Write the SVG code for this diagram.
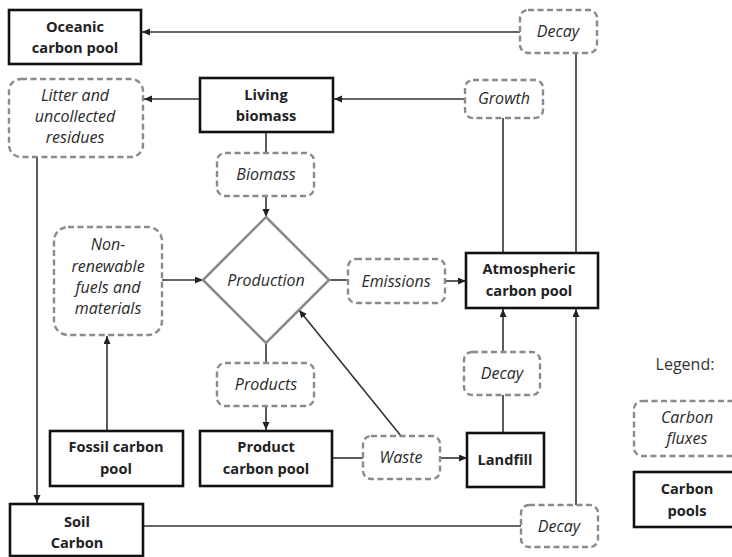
<svg xmlns="http://www.w3.org/2000/svg" width="732" height="557" viewBox="0 0 732 557">
<defs>
<marker id="arr" markerUnits="userSpaceOnUse" markerWidth="9" markerHeight="8" refX="8" refY="3.5" orient="auto">
<path d="M0,0 L8,3.5 L0,7 z" fill="#222"/>
</marker>
<style>
.pool{fill:#fff;stroke:#111;stroke-width:2.6}
.flux{fill:#fff;stroke:#8a8a8a;stroke-width:2.4;stroke-dasharray:6 3.5}
.b{font-family:"Open Sans","DejaVu Sans",sans-serif;font-weight:bold;font-size:14.6px;fill:#222;text-anchor:middle}
.i{font-family:"Open Sans","DejaVu Sans",sans-serif;font-style:italic;font-size:16px;fill:#2a2a2a;text-anchor:middle}
.l{font-family:"Open Sans","DejaVu Sans",sans-serif;font-size:16px;fill:#333;text-anchor:middle}
.c{fill:none;stroke:#333;stroke-width:1.6}
.ca{fill:none;stroke:#333;stroke-width:1.6;marker-end:url(#arr)}
</style>
</defs>
<rect width="732" height="557" fill="#fff"/>
<g id="connectors">
<path class="ca" d="M520,32 H142"/>
<path class="c" d="M576,53 V253"/>
<path class="ca" d="M465,99 H334"/>
<path class="c" d="M503,118 V253"/>
<path class="ca" d="M200,99 H144"/>
<path class="ca" d="M37,157 V503"/>
<path class="c" d="M266,132 V153"/>
<path class="ca" d="M266,196 V217"/>
<path class="ca" d="M162,280 H203"/>
<path class="ca" d="M107,431 V336"/>
<path class="c" d="M329,280 H348"/>
<path class="ca" d="M445,281 H466"/>
<path class="c" d="M266,343 V363"/>
<path class="ca" d="M266,406 V430"/>
<path class="c" d="M332,458 H363"/>
<path class="ca" d="M440,458 H467"/>
<path class="ca" d="M401,436 L299,310"/>
<path class="c" d="M503,433 V395"/>
<path class="ca" d="M503,352 V309"/>
<path class="c" d="M143,526 H521"/>
<path class="ca" d="M576,505 V309"/>
</g>
<g id="oceanic">
<rect class="pool" x="9" y="10" width="132" height="54"/>
<text class="b" x="75" y="32">Oceanic</text>
<text class="b" x="75" y="53">carbon pool</text>
</g>
<g id="decay-top">
<rect class="flux" x="520" y="10" width="77" height="43" rx="8"/>
<text class="i" x="558" y="37">Decay</text>
</g>
<g id="litter">
<rect class="flux" x="9" y="79" width="134" height="78" rx="12"/>
<text class="i" x="75" y="101">Litter and</text>
<text class="i" x="75" y="122">uncollected</text>
<text class="i" x="75" y="143">residues</text>
</g>
<g id="living">
<rect class="pool" x="200" y="78" width="133" height="54"/>
<text class="b" x="266" y="100">Living</text>
<text class="b" x="266" y="121">biomass</text>
</g>
<g id="growth">
<rect class="flux" x="465" y="80" width="78" height="38" rx="8"/>
<text class="i" x="504" y="104">Growth</text>
</g>
<g id="biomass">
<rect class="flux" x="217" y="153" width="97" height="43" rx="8"/>
<text class="i" x="266" y="180">Biomass</text>
</g>
<g id="nonrenewable">
<rect class="flux" x="54" y="227" width="108" height="108" rx="14"/>
<text class="i" x="108" y="250">Non-</text>
<text class="i" x="108" y="272">renewable</text>
<text class="i" x="108" y="293">fuels and</text>
<text class="i" x="108" y="314">materials</text>
</g>
<g id="production">
<path d="M266,217 L329,280 L266,343 L203,280 Z" fill="#fff" stroke="#8a8a8a" stroke-width="2.6"/>
<text class="i" x="266" y="286">Production</text>
</g>
<g id="emissions">
<rect class="flux" x="348" y="259" width="97" height="44" rx="8"/>
<text class="i" x="396" y="287">Emissions</text>
</g>
<g id="atmospheric">
<rect class="pool" x="466" y="253" width="132" height="55"/>
<text class="b" x="529" y="274">Atmospheric</text>
<text class="b" x="529" y="296">carbon pool</text>
</g>
<g id="decay-mid">
<rect class="flux" x="464" y="352" width="76" height="43" rx="8"/>
<text class="i" x="502" y="379">Decay</text>
</g>
<g id="products">
<rect class="flux" x="217" y="363" width="97" height="43" rx="8"/>
<text class="i" x="266" y="390">Products</text>
</g>
<g id="fossil">
<rect class="pool" x="50" y="431" width="133" height="55"/>
<text class="b" x="116" y="452">Fossil carbon</text>
<text class="b" x="116" y="474">pool</text>
</g>
<g id="productpool">
<rect class="pool" x="200" y="431" width="132" height="55"/>
<text class="b" x="266" y="452">Product</text>
<text class="b" x="266" y="474">carbon pool</text>
</g>
<g id="waste">
<rect class="flux" x="363" y="436" width="77" height="43" rx="8"/>
<text class="i" x="401" y="463">Waste</text>
</g>
<g id="landfill">
<rect class="pool" x="467" y="433" width="77" height="54"/>
<text class="b" x="505" y="465">Landfill</text>
</g>
<g id="soil">
<rect class="pool" x="10" y="504" width="133" height="52"/>
<text class="b" x="77" y="527">Soil</text>
<text class="b" x="77" y="548">Carbon</text>
</g>
<g id="decay-bottom">
<rect class="flux" x="521" y="505" width="77" height="42" rx="8"/>
<text class="i" x="559" y="532">Decay</text>
</g>
<g id="legend">
<text class="l" x="685" y="370">Legend:</text>
<rect class="flux" x="634" y="401" width="110" height="55" rx="8"/>
<text class="i" x="687" y="423">Carbon</text>
<text class="i" x="687" y="444">fluxes</text>
<rect class="pool" x="634" y="472" width="110" height="55"/>
<text class="b" x="687" y="494">Carbon</text>
<text class="b" x="687" y="516">pools</text>
</g>
</svg>
